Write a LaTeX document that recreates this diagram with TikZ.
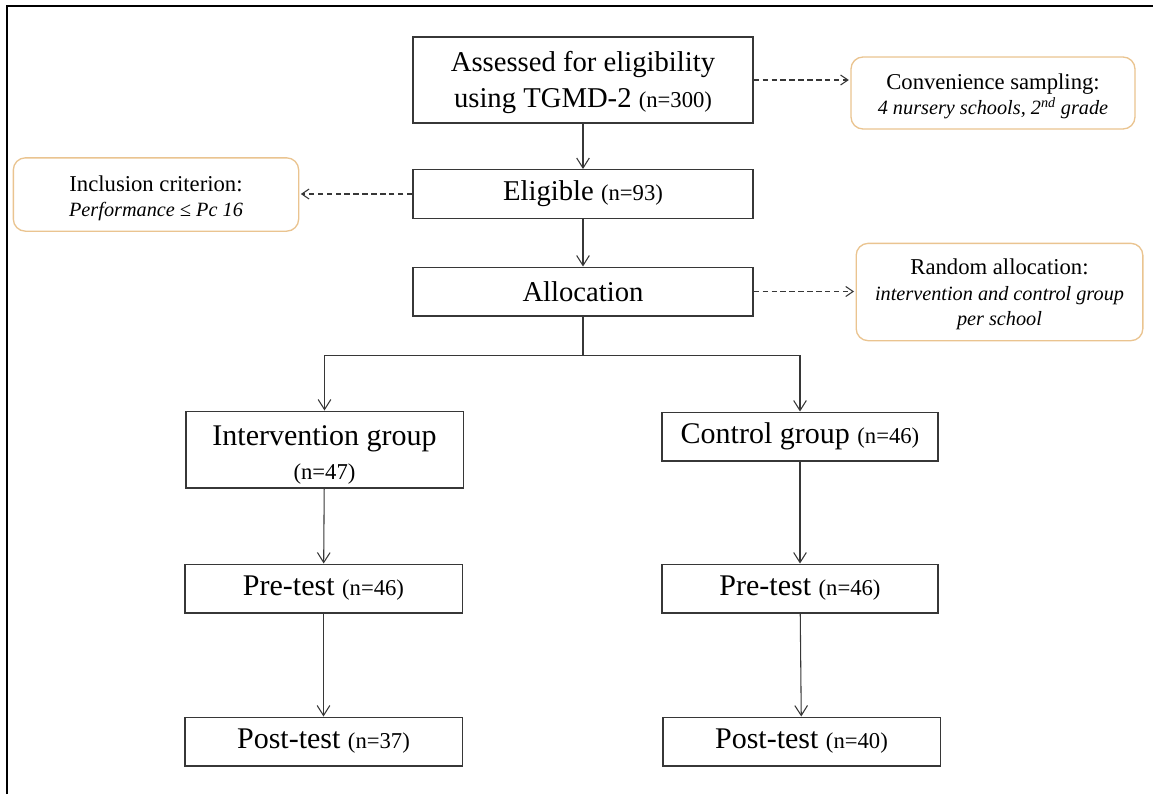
\documentclass[tikz,border=0pt]{standalone}
\usepackage{fontspec}
\setmainfont{Liberation Serif}
\usetikzlibrary{arrows.meta}
\definecolor{boxline}{RGB}{55,55,55}
\definecolor{sidebox}{RGB}{234,196,144}
\newcommand{\nn}[1]{{\fontsize{17}{20}\selectfont #1}}
\newcommand{\itl}[1]{{\fontsize{15.2}{19}\selectfont\itshape #1}}
\tikzset{
  mainbox/.style={draw=boxline, line width=1pt, fill=white, inner sep=0pt, align=center,
    font=\fontsize{21.5}{25}\selectfont},
  lowbox/.style={mainbox, font=\fontsize{22.5}{25}\selectfont},
  sidebx/.style={draw=sidebox, line width=1pt, fill=white, rounded corners=9pt, inner sep=0pt,
    align=center, font=\fontsize{17}{19}\selectfont},
  arr/.style={draw=boxline, line width=0.8pt, -{Straight Barb[length=7.5pt,width=9.5pt,line width=0.8pt]}},
  darr/.style={draw=boxline, line width=0.8pt, dash pattern=on 4pt off 2.7pt,
    -{Straight Barb[length=5.5pt,width=7.5pt,line width=0.8pt,sep]}}
}
\begin{document}
\begin{tikzpicture}[x=0.75pt,y=-0.75pt]
\useasboundingbox (0,0) rectangle (1153,794);
\draw[line width=1.8pt, black] (7,794) -- (7,6) -- (1153,6);

\node[mainbox, minimum width=255pt, minimum height=64.5pt] (assess) at (583,80)
  {\rule{0pt}{19.5pt}Assessed for eligibility\\[2pt] using TGMD-2 \nn{(n=300)}};
\node[mainbox, minimum width=255pt, minimum height=36.5pt] (elig) at (583,194)
  {Eligible \nn{(n=93)}};
\node[mainbox, minimum width=255pt, minimum height=36.5pt] (alloc) at (583,291.5)
  {Allocation};
\node[lowbox, minimum width=208pt, minimum height=57.5pt] (interv) at (324.5,449.5)
  {\rule{0pt}{23pt}Intervention group\\ \nn{(n=47)}};
\node[lowbox, minimum width=207pt, minimum height=36.5pt] (control) at (800,436.5)
  {Control group \nn{(n=46)}};
\node[lowbox, minimum width=208pt, minimum height=36.5pt] (preL) at (323.5,588.5)
  {Pre-test \nn{(n=46)}};
\node[lowbox, minimum width=207pt, minimum height=36.5pt] (preR) at (800,588.5)
  {Pre-test \nn{(n=46)}};
\node[lowbox, minimum width=208pt, minimum height=36.5pt] (postL) at (323.5,741.5)
  {Post-test \nn{(n=37)}};
\node[lowbox, minimum width=208pt, minimum height=36.5pt] (postR) at (801.5,741.5)
  {Post-test \nn{(n=40)}};

\node[sidebx, minimum width=213pt, minimum height=54pt] (conv) at (993,93)
  {\rule{0pt}{16.5pt}Convenience sampling:\\ \itl{4 nursery schools, 2\textsuperscript{nd} grade}};
\node[sidebx, minimum width=214pt, minimum height=55pt] (incl) at (156,194.5)
  {\rule{0pt}{17.5pt}Inclusion criterion:\\ \itl{Performance ≤ Pc 16}};
\node[sidebx, minimum width=215pt, minimum height=73pt] (random) at (999.5,292)
  {\rule{0pt}{15.5pt}Random allocation:\\ \itl{intervention and control group}\\ \itl{per school}};

\draw[arr] (assess) -- (elig);
\draw[arr] (elig) -- (alloc);
\draw[arr] (alloc.south) -- ++(0,39) -| (interv.north);
\draw[arr] (alloc.south) -- ++(0,39) -| (control.north);
\draw[arr] (interv) -- (preL);
\draw[arr] (preL) -- (postL);
\draw[arr] (control) -- (preR);
\draw[arr] (preR) -- (postR);

\draw[darr] (assess.east) -- (assess.east -| conv.west);
\draw[darr] (elig.west) -- (elig.west -| incl.east);
\draw[darr] (alloc.east) -- (alloc.east -| random.west);
\end{tikzpicture}
\end{document}
